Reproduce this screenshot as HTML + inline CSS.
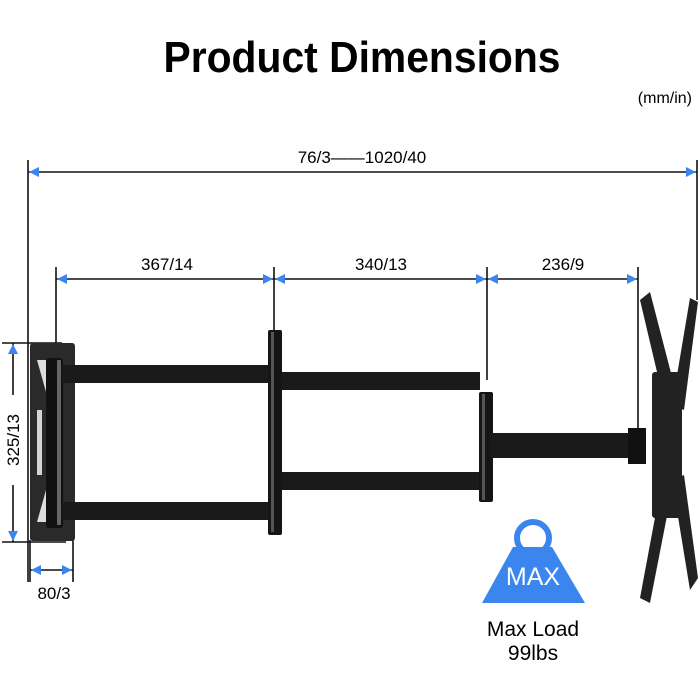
<!DOCTYPE html>
<html><head><meta charset="utf-8"><style>
html,body{margin:0;padding:0;background:#fff;width:700px;height:700px;overflow:hidden}
svg{display:block}
text{font-family:"Liberation Sans",Arial,sans-serif}
</style></head><body>
<svg width="700" height="700" viewBox="0 0 700 700" xmlns="http://www.w3.org/2000/svg">
<text x="362" y="72" font-size="44" font-weight="bold" text-anchor="middle" textLength="397" lengthAdjust="spacingAndGlyphs">Product Dimensions</text>
<text x="692" y="103" font-size="16" text-anchor="end">(mm/in)</text>

<g stroke="#111" stroke-width="1.6" fill="none">
<line x1="28" y1="160" x2="28" y2="582"/>
<line x1="697" y1="160" x2="697" y2="300"/>
<line x1="28" y1="172" x2="697" y2="172"/>
<line x1="56" y1="267" x2="56" y2="345"/>
<line x1="274" y1="267" x2="274" y2="340"/>
<line x1="487" y1="267" x2="487" y2="380"/>
<line x1="638" y1="267" x2="638" y2="455"/>
<line x1="56" y1="279" x2="638" y2="279"/>
<line x1="2" y1="343" x2="62" y2="343"/>
<line x1="2" y1="542" x2="66" y2="542"/>
<line x1="13" y1="343" x2="13" y2="395"/>
<line x1="13" y1="485" x2="13" y2="542"/>
<line x1="30" y1="540" x2="30" y2="582"/>
<line x1="73" y1="540" x2="73" y2="582"/>
<line x1="30" y1="570" x2="73" y2="570"/>
</g>
<g fill="#3b86ee">
<polygon points="29,172 39,167 39,177"/>
<polygon points="696,172 686,167 686,177"/>
<polygon points="57,279 67,274 67,284"/>
<polygon points="273,279 263,274 263,284"/>
<polygon points="275,279 285,274 285,284"/>
<polygon points="486,279 476,274 476,284"/>
<polygon points="488,279 498,274 498,284"/>
<polygon points="637,279 627,274 627,284"/>
<polygon points="13,344 8,354 18,354"/>
<polygon points="13,541 8,531 18,531"/>
<polygon points="31,570 41,565 41,575"/>
<polygon points="72,570 62,565 62,575"/>
</g>
<text x="362" y="163" font-size="17" text-anchor="middle">76/3——1020/40</text>
<text x="167" y="270" font-size="17" text-anchor="middle">367/14</text>
<text x="381" y="270" font-size="17" text-anchor="middle">340/13</text>
<text x="563" y="270" font-size="17" text-anchor="middle">236/9</text>
<text x="0" y="0" font-size="17" text-anchor="middle" transform="translate(19,440) rotate(-90)">325/13</text>
<text x="54" y="599" font-size="17" text-anchor="middle">80/3</text>

<!-- wall plate -->
<rect x="30" y="343" width="45" height="198" rx="3" fill="#2a2a2a"/>
<polygon points="37,360 46,360 46,392" fill="#ddd"/>
<polygon points="37,522 46,522 46,490" fill="#ddd"/>
<rect x="37" y="410" width="5" height="65" fill="#fff" opacity="0.8"/>
<rect x="46" y="358" width="17" height="170" rx="3" fill="#111"/>
<rect x="57" y="360" width="4" height="165" fill="#666"/>
<!-- arms 1 -->
<rect x="62" y="365" width="208" height="18" fill="#1a1a1a"/>
<rect x="62" y="502" width="208" height="18" fill="#1a1a1a"/>
<rect x="268" y="330" width="14" height="205" rx="2" fill="#151515"/>
<rect x="271" y="332" width="3" height="200" fill="#555"/>
<!-- arms 2 -->
<rect x="282" y="372" width="198" height="18" fill="#1a1a1a"/>
<rect x="282" y="472" width="198" height="18" fill="#1a1a1a"/>
<rect x="479" y="392" width="14" height="110" rx="2" fill="#151515"/>
<rect x="482" y="394" width="3" height="106" fill="#555"/>
<!-- arm 3 -->
<rect x="490" y="433" width="150" height="25" fill="#1a1a1a"/>
<rect x="628" y="428" width="18" height="36" fill="#111"/>
<!-- TV bracket -->
<g fill="#222">
<polygon points="640,300 650,292 678,400 666,410"/>
<polygon points="690,298 698,302 684,410 672,405"/>
<polygon points="662,480 674,480 650,603 640,598"/>
<polygon points="672,480 684,475 698,578 690,590"/>
<rect x="652" y="372" width="30" height="146" rx="3"/>
</g>
<!-- weight -->
<circle cx="533" cy="538" r="16" fill="none" stroke="#3b86ee" stroke-width="6"/>
<polygon points="513,547 552,547 585,603 482,603" fill="#3b86ee"/>
<text x="533" y="585" font-size="25" fill="#fff" text-anchor="middle">MAX</text>
<text x="533" y="636" font-size="21" text-anchor="middle">Max Load</text>
<text x="533" y="660" font-size="21" text-anchor="middle">99lbs</text>
</svg>
</body></html>
